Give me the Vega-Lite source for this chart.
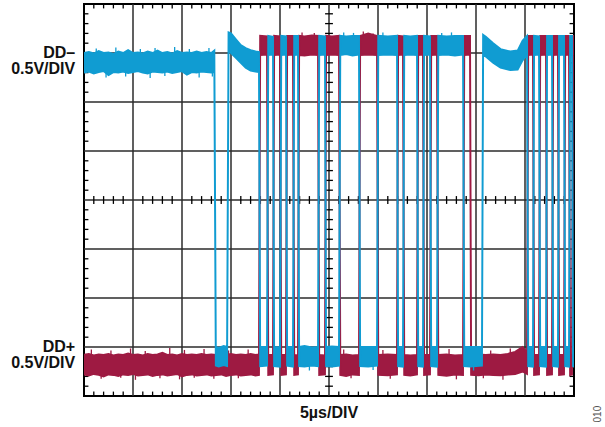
{
  "$schema": "https://vega.github.io/schema/vega-lite/v6.json",
  "width": 490,
  "height": 392,
  "autosize": "none",
  "padding": {"left": 84, "top": 4, "right": 31, "bottom": 31},
  "background": "white",
  "config": {"view": {"stroke": "#000000", "strokeWidth": 2}},
  "datasets": {
    "gx": [{"v": 1}, {"v": 2}, {"v": 3}, {"v": 4}, {"v": 5}, {"v": 6}, {"v": 7}, {"v": 8}, {"v": 9}],
    "gy": [{"v": 1}, {"v": 2}, {"v": 3}, {"v": 4}, {"v": 5}, {"v": 6}, {"v": 7}],
    "xt": [{"v":0.2},{"v":0.4},{"v":0.6},{"v":0.8},{"v":1.2},{"v":1.4},{"v":1.6},{"v":1.8},{"v":2.2},{"v":2.4},{"v":2.6},{"v":2.8},{"v":3.2},{"v":3.4},{"v":3.6},{"v":3.8},{"v":4.2},{"v":4.4},{"v":4.6},{"v":4.8},{"v":5.2},{"v":5.4},{"v":5.6},{"v":5.8},{"v":6.2},{"v":6.4},{"v":6.6},{"v":6.8},{"v":7.2},{"v":7.4},{"v":7.6},{"v":7.8},{"v":8.2},{"v":8.4},{"v":8.6},{"v":8.8},{"v":9.2},{"v":9.4},{"v":9.6},{"v":9.8}],
    "yt": [{"v":0.2},{"v":0.4},{"v":0.6},{"v":0.8},{"v":1.2},{"v":1.4},{"v":1.6},{"v":1.8},{"v":2.2},{"v":2.4},{"v":2.6},{"v":2.8},{"v":3.2},{"v":3.4},{"v":3.6},{"v":3.8},{"v":4.2},{"v":4.4},{"v":4.6},{"v":4.8},{"v":5.2},{"v":5.4},{"v":5.6},{"v":5.8},{"v":6.2},{"v":6.4},{"v":6.6},{"v":6.8},{"v":7.2},{"v":7.4},{"v":7.6},{"v":7.8}],
    "dplus": [
      {"t":0.0,"lo":0.44,"hi":0.84},{"t":0.1,"lo":0.42,"hi":0.86},{"t":0.2,"lo":0.45,"hi":0.83},{"t":0.3,"lo":0.43,"hi":0.85},{"t":0.4,"lo":0.40,"hi":0.84},{"t":0.5,"lo":0.44,"hi":0.86},{"t":0.6,"lo":0.43,"hi":0.83},{"t":0.7,"lo":0.41,"hi":0.85},{"t":0.8,"lo":0.44,"hi":0.84},{"t":0.9,"lo":0.43,"hi":0.87},
      {"t":1.0,"lo":0.45,"hi":0.84},{"t":1.1,"lo":0.42,"hi":0.85},{"t":1.2,"lo":0.43,"hi":0.83},{"t":1.3,"lo":0.44,"hi":0.86},{"t":1.4,"lo":0.41,"hi":0.84},{"t":1.5,"lo":0.43,"hi":0.85},{"t":1.6,"lo":0.44,"hi":0.88},{"t":1.7,"lo":0.42,"hi":0.84},{"t":1.8,"lo":0.43,"hi":0.85},{"t":1.9,"lo":0.45,"hi":0.83},
      {"t":2.0,"lo":0.40,"hi":0.86},{"t":2.1,"lo":0.43,"hi":0.84},{"t":2.2,"lo":0.44,"hi":0.85},{"t":2.3,"lo":0.42,"hi":0.84},{"t":2.4,"lo":0.43,"hi":0.86},{"t":2.5,"lo":0.44,"hi":0.84},{"t":2.6,"lo":0.42,"hi":0.85},{"t":2.7,"lo":0.43,"hi":0.84},{"t":2.8,"lo":0.44,"hi":0.85},{"t":2.9,"lo":0.41,"hi":0.84},
      {"t":3.0,"lo":0.43,"hi":0.86},{"t":3.1,"lo":0.44,"hi":0.84},{"t":3.2,"lo":0.42,"hi":0.85},{"t":3.3,"lo":0.43,"hi":0.84},{"t":3.4,"lo":0.44,"hi":0.86},{"t":3.5,"lo":0.42,"hi":0.84},{"t":3.571,"lo":0.43,"hi":0.85},
      {"t":3.595,"lo":6.96,"hi":7.35},{"t":3.735,"lo":6.97,"hi":7.34},
      {"t":3.76,"lo":0.43,"hi":0.84},{"t":3.857,"lo":0.44,"hi":0.84},
      {"t":3.88,"lo":6.96,"hi":7.35},{"t":4.0,"lo":6.97,"hi":7.34},
      {"t":4.025,"lo":0.43,"hi":0.84},{"t":4.122,"lo":0.44,"hi":0.84},
      {"t":4.145,"lo":6.96,"hi":7.35},{"t":4.265,"lo":6.97,"hi":7.35},
      {"t":4.29,"lo":0.43,"hi":0.84},{"t":4.367,"lo":0.44,"hi":0.83},
      {"t":4.39,"lo":6.96,"hi":7.35},{"t":4.5,"lo":6.95,"hi":7.34},{"t":4.65,"lo":6.97,"hi":7.36},{"t":4.776,"lo":6.96,"hi":7.35},
      {"t":4.80,"lo":0.43,"hi":0.84},{"t":4.918,"lo":0.44,"hi":0.83},
      {"t":4.94,"lo":6.96,"hi":7.35},{"t":5.06,"lo":6.97,"hi":7.34},{"t":5.204,"lo":6.96,"hi":7.35},
      {"t":5.23,"lo":0.43,"hi":0.84},{"t":5.35,"lo":0.41,"hi":0.85},{"t":5.48,"lo":0.44,"hi":0.83},{"t":5.612,"lo":0.43,"hi":0.84},
      {"t":5.635,"lo":6.96,"hi":7.35},{"t":5.8,"lo":6.97,"hi":7.40},{"t":5.98,"lo":6.96,"hi":7.35},
      {"t":6.005,"lo":0.43,"hi":0.84},{"t":6.2,"lo":0.42,"hi":0.85},{"t":6.388,"lo":0.44,"hi":0.84},
      {"t":6.41,"lo":6.96,"hi":7.35},{"t":6.51,"lo":6.97,"hi":7.34},
      {"t":6.535,"lo":0.43,"hi":0.84},{"t":6.66,"lo":0.42,"hi":0.83},{"t":6.796,"lo":0.44,"hi":0.84},
      {"t":6.82,"lo":6.96,"hi":7.35},{"t":6.918,"lo":6.97,"hi":7.35},
      {"t":6.94,"lo":0.43,"hi":0.84},{"t":7.061,"lo":0.44,"hi":0.84},
      {"t":7.085,"lo":6.96,"hi":7.35},{"t":7.204,"lo":6.97,"hi":7.35},
      {"t":7.23,"lo":0.43,"hi":0.84},{"t":7.4,"lo":0.41,"hi":0.85},{"t":7.57,"lo":0.44,"hi":0.83},{"t":7.735,"lo":0.43,"hi":0.84},
      {"t":7.76,"lo":6.96,"hi":7.35},{"t":7.878,"lo":6.97,"hi":7.35},
      {"t":7.90,"lo":0.43,"hi":0.84},{"t":8.05,"lo":0.42,"hi":0.85},{"t":8.2,"lo":0.44,"hi":0.84},{"t":8.35,"lo":0.43,"hi":0.85},{"t":8.5,"lo":0.42,"hi":0.84},{"t":8.65,"lo":0.44,"hi":0.86},{"t":8.8,"lo":0.45,"hi":0.90},{"t":8.95,"lo":0.50,"hi":1.0},{"t":9.041,"lo":0.45,"hi":0.88},
      {"t":9.065,"lo":6.96,"hi":7.35},{"t":9.163,"lo":6.97,"hi":7.35},
      {"t":9.185,"lo":0.43,"hi":0.84},{"t":9.286,"lo":0.44,"hi":0.84},
      {"t":9.31,"lo":6.96,"hi":7.35},{"t":9.429,"lo":6.97,"hi":7.35},
      {"t":9.45,"lo":0.43,"hi":0.84},{"t":9.551,"lo":0.44,"hi":0.84},
      {"t":9.575,"lo":6.96,"hi":7.35},{"t":9.673,"lo":6.97,"hi":7.35},
      {"t":9.695,"lo":0.43,"hi":0.84},{"t":9.796,"lo":0.44,"hi":0.84},
      {"t":9.82,"lo":6.96,"hi":7.35},{"t":9.898,"lo":6.97,"hi":7.35},
      {"t":9.92,"lo":0.43,"hi":0.84},{"t":9.959,"lo":0.44,"hi":0.84},
      {"t":9.98,"lo":6.96,"hi":7.35},{"t":10.0,"lo":6.97,"hi":7.35}
    ],
    "dminus": [
      {"t":0.0,"lo":6.60,"hi":7.00},{"t":0.1,"lo":6.62,"hi":7.02},{"t":0.2,"lo":6.58,"hi":6.99},{"t":0.3,"lo":6.61,"hi":7.04},{"t":0.4,"lo":6.63,"hi":7.00},{"t":0.5,"lo":6.55,"hi":7.01},{"t":0.6,"lo":6.61,"hi":6.98},{"t":0.7,"lo":6.60,"hi":7.03},{"t":0.8,"lo":6.62,"hi":7.00},{"t":0.9,"lo":6.59,"hi":7.06},
      {"t":1.0,"lo":6.61,"hi":7.00},{"t":1.1,"lo":6.63,"hi":7.01},{"t":1.2,"lo":6.60,"hi":6.99},{"t":1.3,"lo":6.58,"hi":7.03},{"t":1.4,"lo":6.62,"hi":7.00},{"t":1.5,"lo":6.61,"hi":7.05},{"t":1.6,"lo":6.60,"hi":7.00},{"t":1.7,"lo":6.62,"hi":7.02},{"t":1.8,"lo":6.59,"hi":6.99},{"t":1.9,"lo":6.61,"hi":7.04},
      {"t":2.0,"lo":6.63,"hi":7.00},{"t":2.1,"lo":6.56,"hi":7.01},{"t":2.2,"lo":6.61,"hi":7.00},{"t":2.3,"lo":6.60,"hi":7.03},{"t":2.4,"lo":6.62,"hi":7.00},{"t":2.5,"lo":6.61,"hi":7.02},{"t":2.6,"lo":6.60,"hi":7.00},{"t":2.66,"lo":6.61,"hi":7.05},
      {"t":2.69,"lo":0.62,"hi":1.0},{"t":2.75,"lo":0.60,"hi":0.98},{"t":2.85,"lo":0.63,"hi":1.02},{"t":2.92,"lo":0.61,"hi":1.0},
      {"t":2.95,"lo":7.05,"hi":7.42},{"t":3.0,"lo":7.0,"hi":7.40},{"t":3.1,"lo":6.90,"hi":7.28},{"t":3.2,"lo":6.80,"hi":7.16},{"t":3.3,"lo":6.70,"hi":7.10},{"t":3.4,"lo":6.64,"hi":7.06},{"t":3.5,"lo":6.62,"hi":7.03},{"t":3.571,"lo":6.61,"hi":7.02},
      {"t":3.595,"lo":0.61,"hi":1.0},{"t":3.735,"lo":0.62,"hi":1.0},
      {"t":3.76,"lo":6.96,"hi":7.35},{"t":3.857,"lo":6.97,"hi":7.33},
      {"t":3.88,"lo":0.61,"hi":1.0},{"t":4.0,"lo":0.60,"hi":0.99},
      {"t":4.025,"lo":6.96,"hi":7.35},{"t":4.122,"lo":6.97,"hi":7.34},
      {"t":4.145,"lo":0.62,"hi":1.0},{"t":4.265,"lo":0.60,"hi":1.0},
      {"t":4.29,"lo":6.96,"hi":7.35},{"t":4.367,"lo":6.97,"hi":7.35},
      {"t":4.39,"lo":0.61,"hi":1.0},{"t":4.5,"lo":0.60,"hi":1.02},{"t":4.65,"lo":0.62,"hi":0.99},{"t":4.776,"lo":0.61,"hi":1.0},
      {"t":4.80,"lo":6.96,"hi":7.35},{"t":4.918,"lo":6.97,"hi":7.34},
      {"t":4.94,"lo":0.61,"hi":1.0},{"t":5.06,"lo":0.60,"hi":1.01},{"t":5.204,"lo":0.62,"hi":1.0},
      {"t":5.23,"lo":6.96,"hi":7.35},{"t":5.35,"lo":6.98,"hi":7.34},{"t":5.48,"lo":6.95,"hi":7.35},{"t":5.612,"lo":6.97,"hi":7.35},
      {"t":5.635,"lo":0.61,"hi":1.0},{"t":5.8,"lo":0.60,"hi":1.0},{"t":5.98,"lo":0.62,"hi":1.0},
      {"t":6.005,"lo":6.96,"hi":7.35},{"t":6.2,"lo":6.97,"hi":7.34},{"t":6.388,"lo":6.96,"hi":7.35},
      {"t":6.41,"lo":0.61,"hi":1.0},{"t":6.51,"lo":0.60,"hi":1.0},
      {"t":6.535,"lo":6.96,"hi":7.35},{"t":6.66,"lo":6.97,"hi":7.34},{"t":6.796,"lo":6.96,"hi":7.35},
      {"t":6.82,"lo":0.61,"hi":1.0},{"t":6.918,"lo":0.60,"hi":1.0},
      {"t":6.94,"lo":6.96,"hi":7.35},{"t":7.061,"lo":6.97,"hi":7.34},
      {"t":7.085,"lo":0.61,"hi":1.0},{"t":7.204,"lo":0.60,"hi":1.0},
      {"t":7.23,"lo":6.96,"hi":7.35},{"t":7.4,"lo":6.97,"hi":7.34},{"t":7.57,"lo":6.95,"hi":7.35},{"t":7.735,"lo":6.97,"hi":7.35},
      {"t":7.76,"lo":0.61,"hi":1.0},{"t":7.878,"lo":0.60,"hi":1.0},{"t":8.0,"lo":0.61,"hi":1.0},{"t":8.122,"lo":0.62,"hi":1.0},
      {"t":8.145,"lo":6.96,"hi":7.37},{"t":8.2,"lo":6.93,"hi":7.33},{"t":8.35,"lo":6.80,"hi":7.20},{"t":8.5,"lo":6.70,"hi":7.08},{"t":8.7,"lo":6.65,"hi":7.03},{"t":8.85,"lo":6.66,"hi":7.05},{"t":8.95,"lo":6.85,"hi":7.25},{"t":9.041,"lo":6.96,"hi":7.35},
      {"t":9.065,"lo":0.61,"hi":1.0},{"t":9.163,"lo":0.60,"hi":1.0},
      {"t":9.185,"lo":6.96,"hi":7.35},{"t":9.286,"lo":6.97,"hi":7.34},
      {"t":9.31,"lo":0.61,"hi":1.0},{"t":9.429,"lo":0.60,"hi":1.0},
      {"t":9.45,"lo":6.96,"hi":7.35},{"t":9.551,"lo":6.97,"hi":7.35},
      {"t":9.575,"lo":0.61,"hi":1.0},{"t":9.673,"lo":0.60,"hi":1.0},
      {"t":9.695,"lo":6.96,"hi":7.35},{"t":9.796,"lo":6.97,"hi":7.35},
      {"t":9.82,"lo":0.61,"hi":1.0},{"t":9.898,"lo":0.60,"hi":1.0},
      {"t":9.92,"lo":6.96,"hi":7.35},{"t":9.959,"lo":6.97,"hi":7.35},
      {"t":9.98,"lo":0.61,"hi":1.0},{"t":10.0,"lo":0.60,"hi":1.0}
    ],
    "spkplus": [
      {"t":0.15,"a":0.84,"b":0.95},{"t":0.55,"a":0.84,"b":0.93},{"t":0.95,"a":0.84,"b":0.97},{"t":1.25,"a":0.84,"b":0.92},{"t":1.75,"a":0.84,"b":0.98},{"t":2.05,"a":0.84,"b":0.94},{"t":2.45,"a":0.84,"b":0.96},{"t":2.95,"a":0.84,"b":0.93},{"t":3.35,"a":0.84,"b":0.95},{"t":5.3,"a":0.84,"b":0.95},{"t":6.1,"a":0.84,"b":0.94},{"t":7.45,"a":0.84,"b":0.96},{"t":8.3,"a":0.84,"b":0.93},{"t":8.7,"a":0.84,"b":0.97},
      {"t":0.35,"a":0.35,"b":0.44},{"t":0.75,"a":0.37,"b":0.44},{"t":1.05,"a":0.33,"b":0.44},{"t":1.55,"a":0.36,"b":0.44},{"t":1.95,"a":0.34,"b":0.44},{"t":2.25,"a":0.37,"b":0.44},{"t":2.65,"a":0.35,"b":0.44},{"t":3.15,"a":0.36,"b":0.44},{"t":5.45,"a":0.36,"b":0.44},{"t":6.25,"a":0.35,"b":0.44},{"t":7.6,"a":0.34,"b":0.44},{"t":8.15,"a":0.36,"b":0.44},{"t":8.55,"a":0.33,"b":0.44},
      {"t":4.45,"a":7.3,"b":7.42},{"t":4.7,"a":7.3,"b":7.41},{"t":5.7,"a":7.3,"b":7.44},{"t":5.9,"a":7.3,"b":7.4}
    ],
    "spkminus": [
      {"t":0.25,"a":7.0,"b":7.09},{"t":0.65,"a":7.0,"b":7.11},{"t":1.15,"a":7.0,"b":7.08},{"t":1.45,"a":7.0,"b":7.1},{"t":1.85,"a":7.0,"b":7.12},{"t":2.15,"a":7.0,"b":7.08},{"t":2.55,"a":7.0,"b":7.1},
      {"t":0.45,"a":6.5,"b":6.6},{"t":0.85,"a":6.52,"b":6.6},{"t":1.35,"a":6.49,"b":6.6},{"t":1.65,"a":6.53,"b":6.6},{"t":2.35,"a":6.5,"b":6.6},{"t":2.62,"a":6.52,"b":6.6},
      {"t":5.3,"a":7.3,"b":7.42},{"t":5.5,"a":7.3,"b":7.41},{"t":6.1,"a":7.3,"b":7.42},{"t":7.3,"a":7.3,"b":7.41},{"t":7.5,"a":7.3,"b":7.42},
      {"t":4.6,"a":0.52,"b":0.62},{"t":5.9,"a":0.53,"b":0.62},{"t":7.95,"a":0.52,"b":0.62}
    ],
    "labels": [
      {"x": -0.18, "y": 6.9, "text": "DD–"},
      {"x": -0.18, "y": 6.57, "text": "0.5V/DIV"},
      {"x": -0.18, "y": 0.9, "text": "DD+"},
      {"x": -0.18, "y": 0.57, "text": "0.5V/DIV"}
    ]
  },
  "encoding": {
    "x": {"type": "quantitative", "scale": {"domain": [0, 10], "nice": false, "zero": false}, "axis": null},
    "y": {"type": "quantitative", "scale": {"domain": [0, 8], "nice": false, "zero": false}, "axis": null}
  },
  "layer": [
    {
      "data": {"name": "gx"},
      "mark": {"type": "rule", "color": "#2b2b2b", "strokeWidth": 1.5},
      "encoding": {"x": {"field": "v", "type": "quantitative"}, "y": {"datum": 0}, "y2": {"datum": 8}}
    },
    {
      "data": {"name": "gy"},
      "mark": {"type": "rule", "color": "#2b2b2b", "strokeWidth": 1.5},
      "encoding": {"y": {"field": "v", "type": "quantitative"}, "x": {"datum": 0}, "x2": {"datum": 10}}
    },
    {
      "data": {"name": "xt"},
      "mark": {"type": "rule", "color": "#000000", "strokeWidth": 1.3},
      "encoding": {"x": {"field": "v", "type": "quantitative"}, "y": {"datum": 0}, "y2": {"datum": 0.09}}
    },
    {
      "data": {"name": "xt"},
      "mark": {"type": "rule", "color": "#000000", "strokeWidth": 1.3},
      "encoding": {"x": {"field": "v", "type": "quantitative"}, "y": {"datum": 7.91}, "y2": {"datum": 8}}
    },
    {
      "data": {"name": "xt"},
      "mark": {"type": "rule", "color": "#000000", "strokeWidth": 1.3},
      "encoding": {"x": {"field": "v", "type": "quantitative"}, "y": {"datum": 3.92}, "y2": {"datum": 4.08}}
    },
    {
      "data": {"name": "yt"},
      "mark": {"type": "rule", "color": "#000000", "strokeWidth": 1.3},
      "encoding": {"y": {"field": "v", "type": "quantitative"}, "x": {"datum": 0}, "x2": {"datum": 0.09}}
    },
    {
      "data": {"name": "yt"},
      "mark": {"type": "rule", "color": "#000000", "strokeWidth": 1.3},
      "encoding": {"y": {"field": "v", "type": "quantitative"}, "x": {"datum": 9.91}, "x2": {"datum": 10}}
    },
    {
      "data": {"name": "yt"},
      "mark": {"type": "rule", "color": "#000000", "strokeWidth": 1.3},
      "encoding": {"y": {"field": "v", "type": "quantitative"}, "x": {"datum": 4.92}, "x2": {"datum": 5.08}}
    },
    {
      "data": {"name": "dplus"},
      "mark": {"type": "area", "orient": "vertical", "color": "#9E1A42", "stroke": "#9E1A42", "strokeWidth": 1.9, "clip": true},
      "encoding": {"x": {"field": "t", "type": "quantitative"}, "y": {"field": "lo", "type": "quantitative"}, "y2": {"field": "hi"}}
    },
    {
      "data": {"name": "spkplus"},
      "mark": {"type": "rule", "color": "#9E1A42", "strokeWidth": 1.3},
      "encoding": {"x": {"field": "t", "type": "quantitative"}, "y": {"field": "a", "type": "quantitative"}, "y2": {"field": "b"}}
    },
    {
      "data": {"name": "dminus"},
      "mark": {"type": "area", "orient": "vertical", "color": "#109CD2", "stroke": "#109CD2", "strokeWidth": 1.9, "clip": true},
      "encoding": {"x": {"field": "t", "type": "quantitative"}, "y": {"field": "lo", "type": "quantitative"}, "y2": {"field": "hi"}}
    },
    {
      "data": {"name": "spkminus"},
      "mark": {"type": "rule", "color": "#109CD2", "strokeWidth": 1.3},
      "encoding": {"x": {"field": "t", "type": "quantitative"}, "y": {"field": "a", "type": "quantitative"}, "y2": {"field": "b"}}
    },
    {
      "data": {"name": "labels"},
      "mark": {"type": "text", "font": "Liberation Sans", "fontWeight": "bold", "fontSize": 16, "color": "#111111", "baseline": "alphabetic", "align": "right"},
      "encoding": {"x": {"field": "x", "type": "quantitative"}, "y": {"field": "y", "type": "quantitative"}, "text": {"field": "text"}}
    },
    {
      "data": {"values": [{"x": 5, "y": -0.45, "text": "5µs/DIV"}]},
      "mark": {"type": "text", "font": "Liberation Sans", "fontWeight": "bold", "fontSize": 16, "color": "#111111", "baseline": "alphabetic", "align": "center"},
      "encoding": {"x": {"field": "x", "type": "quantitative"}, "y": {"field": "y", "type": "quantitative"}, "text": {"field": "text"}}
    },
    {
      "data": {"values": [{"x": 10.49, "y": -0.37, "text": "010"}]},
      "mark": {"type": "text", "font": "Liberation Sans", "fontSize": 10, "color": "#555555", "angle": 270, "align": "center", "baseline": "middle"},
      "encoding": {"x": {"field": "x", "type": "quantitative"}, "y": {"field": "y", "type": "quantitative"}, "text": {"field": "text"}}
    }
  ]
}
